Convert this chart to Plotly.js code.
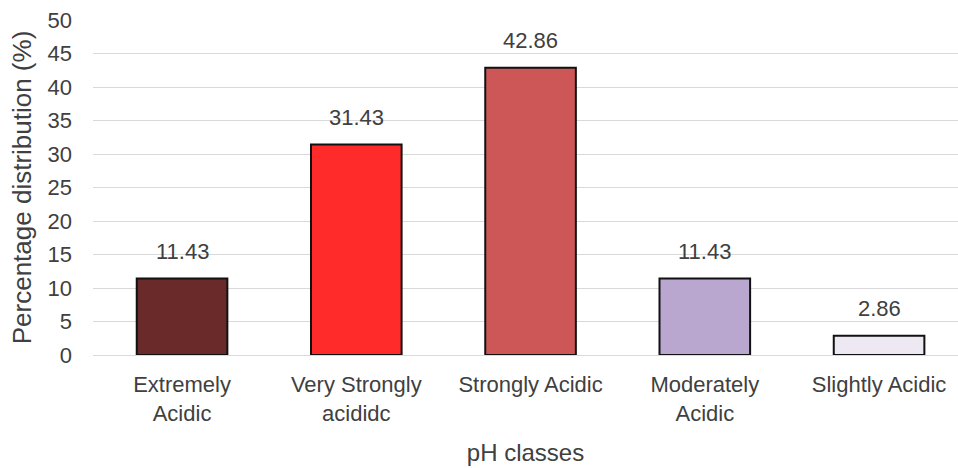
<!DOCTYPE html>
<html>
<head>
<meta charset="utf-8">
<script src="https://cdn.plot.ly/plotly-3.0.1.min.js"></script>
<style>html,body{margin:0;padding:0;background:#fff;}#chart{width:958px;height:468px;}</style>
</head>
<body>
<div id="chart"></div>
<script>
const categories = ["Extremely<br>Acidic", "Very Strongly<br>acididc", "Strongly Acidic", "Moderately<br>Acidic", "Slightly Acidic"];
const values = [11.43, 31.43, 42.86, 11.43, 2.86];
const barColors = ["#6B2A2A", "#FF2A2A", "#CD5656", "#B9A7D0", "#EEE8F3"];
const yTicks = [0, 5, 10, 15, 20, 25, 30, 35, 40, 45, 50];

const FONT = "Liberation Sans, Arial, sans-serif";
const TXT = "#404040";
const positions = categories.map((c, i) => i);

const trace = {
  type: "bar",
  x: positions,
  y: values,
  width: 0.52,
  marker: {color: barColors, line: {color: "#111111", width: 2}},
  hoverinfo: "skip"
};

const annotations = values.map((v, i) => ({
  x: positions[i],
  y: v,
  xref: "x",
  yref: "y",
  text: v.toFixed(2),
  showarrow: false,
  yanchor: "middle",
  yshift: 27,
  font: {family: FONT, size: 22, color: TXT}
}));

const layout = {
  width: 958,
  height: 468,
  margin: {l: 93, r: 0, t: 20, b: 113},
  paper_bgcolor: "#ffffff",
  plot_bgcolor: "#ffffff",
  showlegend: false,
  font: {family: FONT, size: 22, color: TXT},
  annotations: annotations,
  xaxis: {
    range: [-0.511, 4.453],
    tickmode: "array",
    tickvals: positions,
    ticktext: categories,
    showgrid: false,
    zeroline: false,
    showline: false,
    ticks: "",
    ticklabelstandoff: 14,
    tickfont: {family: FONT, size: 22, color: TXT},
    title: {text: "pH classes", font: {family: FONT, size: 24, color: TXT}, standoff: 19}
  },
  yaxis: {
    range: [0, 50],
    tickmode: "array",
    tickvals: yTicks,
    ticktext: yTicks.map(String),
    showgrid: true,
    gridcolor: "#d9d9d9",
    gridwidth: 1,
    zeroline: true,
    zerolinecolor: "#d9d9d9",
    zerolinewidth: 1,
    showline: false,
    ticks: "",
    ticklabelstandoff: 20,
    tickfont: {family: FONT, size: 22, color: TXT},
    title: {text: "Percentage distribution (%)", font: {family: FONT, size: 26, color: TXT}, standoff: 8}
  }
};

Plotly.newPlot("chart", [trace], layout, {displayModeBar: false, staticPlot: true});
</script>
</body>
</html>
